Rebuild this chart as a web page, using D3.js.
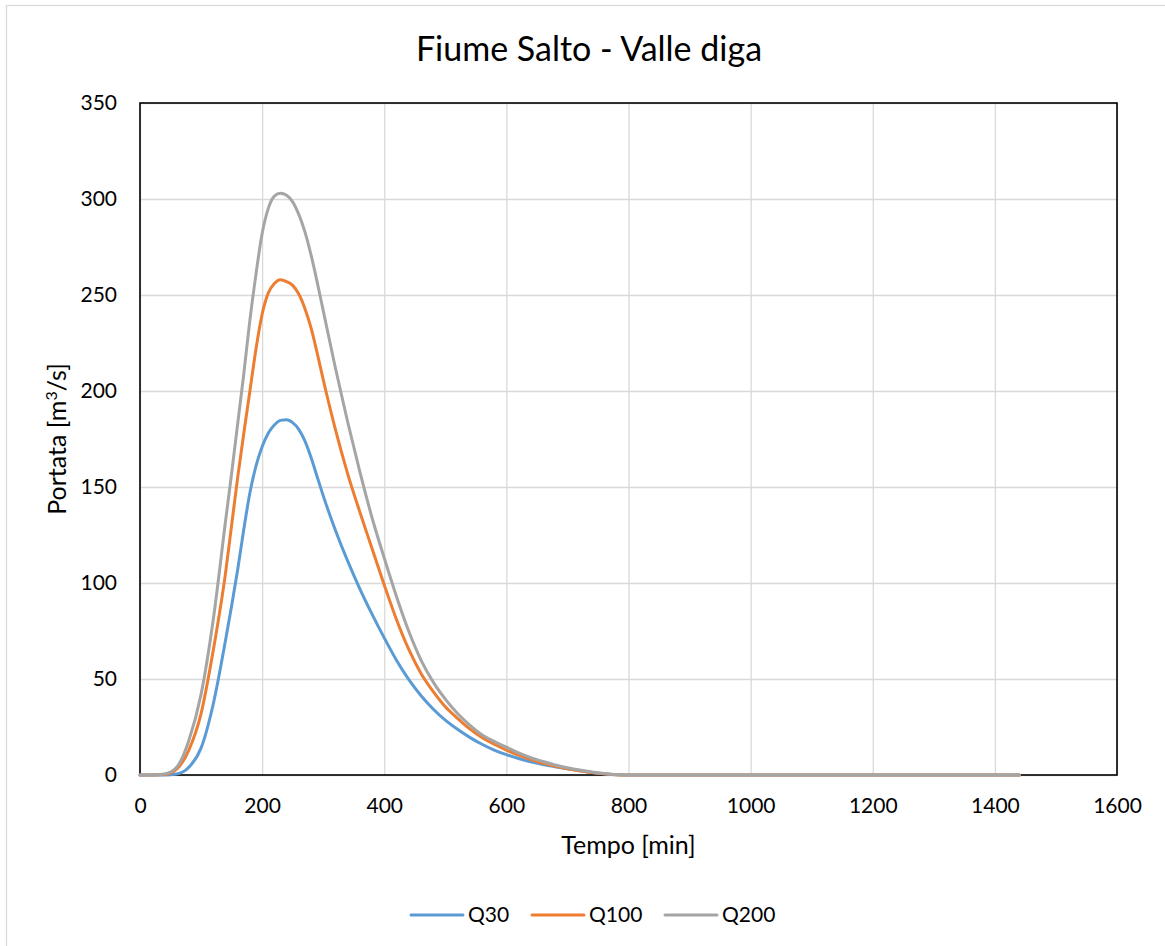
<!DOCTYPE html>
<html>
<head>
<meta charset="utf-8">
<script src="https://cdn.jsdelivr.net/npm/d3@7"></script>
<style>
  body { margin: 0; background: #fff; }
  text { font-family: Lato, "Open Sans", sans-serif; fill: #000; }
</style>
</head>
<body>
<div id="chart"></div>
<script>
// Data
var times = [0, 20, 40, 60, 80, 100, 120, 140, 150, 160, 170, 180, 190, 200, 210, 220, 230, 240, 250, 260,
    270, 280, 290, 300, 320, 340, 360, 380, 400, 420, 440, 460, 480, 500, 520, 540, 560, 580, 600,
    620, 640, 660, 680, 700, 720, 740, 760, 780, 800, 900, 1000, 1100, 1200, 1300, 1440];

var q30 = [0, 0, 0, 0.5, 4, 14, 37, 70, 88, 107, 128, 147, 161, 171, 178, 182.3, 184.7, 185, 183.5, 180,
    174, 165.5, 155.5, 145.5, 127.5, 111.5, 97, 83.8, 71.4, 59.8, 49.8, 41.4, 34.4, 28.6, 23.8, 19.6, 16, 13, 10.6,
    8.6, 6.9, 5.5, 4.3, 3.2, 2.2, 1.3, 0.6, 0.1, 0, 0, 0, 0, 0, 0, 0];

var q100 = [0, 0, 0.2, 3, 13, 32, 65, 105, 130, 155, 178, 200, 222, 240, 251, 256, 258, 257, 255, 250.5,
    243, 233, 220, 206, 180, 157, 137, 118, 99, 81, 65.5, 53, 43.5, 35.5, 29.5, 24, 19.5, 16, 13,
    10.3, 8, 6.1, 4.6, 3.3, 2.2, 1.3, 0.6, 0.1, 0, 0, 0, 0, 0, 0, 0];

var q200 = [0, 0, 0.5, 4, 18, 42, 81, 132, 157, 183, 209, 237, 261, 282, 295, 301.5, 303, 302, 298.5, 292,
    283, 271, 257, 242, 212, 184, 158, 134, 113, 93, 75, 60, 48.5, 39.5, 32, 26, 21, 17.5, 14.5,
    11.5, 9, 7, 5.2, 3.8, 2.6, 1.6, 0.8, 0.2, 0, 0, 0, 0, 0, 0, 0];

var seriesNames = ["Q30", "Q100", "Q200"];
var seriesValues = [q30, q100, q200];
var seriesColors = ["#5b9bd5", "#ed7d31", "#a5a5a5"];

var xTicks = [0, 200, 400, 600, 800, 1000, 1200, 1400, 1600];
var yTicks = [0, 50, 100, 150, 200, 250, 300, 350];

var svgWidth = 1165;
var svgHeight = 946;

var margin = { top: 103, right: 48, bottom: 171, left: 140 };
var width = svgWidth - margin.left - margin.right;
var height = svgHeight - margin.top - margin.bottom;

var svg = d3.select("#chart")
    .append("svg")
    .attr("width", svgWidth)
    .attr("height", svgHeight);

// outer chart frame
svg.append("rect")
    .attr("x", 6.5)
    .attr("y", 5.5)
    .attr("width", 1200)
    .attr("height", 1000)
    .attr("fill", "none")
    .attr("stroke", "#d9d9d9")
    .attr("stroke-width", 1.3);

svg.append("text")
    .attr("x", 589)
    .attr("y", 61)
    .attr("text-anchor", "middle")
    .style("font-size", "34px")
    .text("Fiume Salto - Valle diga");

var chartGroup = svg.append("g")
    .attr("transform", `translate(${margin.left},${margin.top})`);

var x = d3.scaleLinear().domain([0, 1600]).range([0, width]);
var y = d3.scaleLinear().domain([0, 350]).range([height, 0]);

// gridlines
chartGroup.append("g")
    .attr("transform", `translate(0,${height})`)
    .call(d3.axisBottom(x).tickValues(xTicks).tickSize(-height).tickFormat(""))
    .call(g => g.select(".domain").remove())
    .call(g => g.selectAll("line").attr("stroke", "#d9d9d9").attr("stroke-width", 1.3));

chartGroup.append("g")
    .call(d3.axisLeft(y).tickValues(yTicks).tickSize(-width).tickFormat(""))
    .call(g => g.select(".domain").remove())
    .call(g => g.selectAll("line").attr("stroke", "#d9d9d9").attr("stroke-width", 1.3));

// plot frame
chartGroup.append("rect")
    .attr("width", width)
    .attr("height", height)
    .attr("fill", "none")
    .attr("stroke", "#000")
    .attr("stroke-width", 1.6);

// tick labels
var xAxis = chartGroup.append("g")
    .attr("transform", `translate(0,${height})`)
    .call(d3.axisBottom(x).tickValues(xTicks).tickSize(0).tickPadding(23).tickFormat(d3.format("d")));
xAxis.select(".domain").remove();
xAxis.selectAll("text").style("font-size", "21px").style("font-family", "Lato, sans-serif");

var yAxis = chartGroup.append("g")
    .call(d3.axisLeft(y).tickValues(yTicks).tickSize(0).tickPadding(23).tickFormat(d3.format("d")));
yAxis.select(".domain").remove();
yAxis.selectAll("text").style("font-size", "21px").style("font-family", "Lato, sans-serif");

// series lines
var line = d3.line()
    .x((d, i) => x(times[i]))
    .y(d => y(d))
    .curve(d3.curveMonotoneX);

seriesValues.forEach(function (vals, k) {
    chartGroup.append("path")
        .datum(vals)
        .attr("fill", "none")
        .attr("stroke", seriesColors[k])
        .attr("stroke-width", 3)
        .attr("stroke-linejoin", "round")
        .attr("stroke-linecap", "round")
        .attr("d", line);
});

// axis titles
svg.append("text")
    .attr("x", margin.left + width / 2)
    .attr("y", 854)
    .attr("text-anchor", "middle")
    .style("font-size", "25px")
    .text("Tempo [min]");

var yTitle = svg.append("text")
    .attr("transform", `translate(66,${margin.top + height / 2}) rotate(-90)`)
    .attr("text-anchor", "middle")
    .style("font-size", "25px");
yTitle.append("tspan").text("Portata [m");
yTitle.append("tspan").attr("dy", -9).style("font-size", "16px").text("3");
yTitle.append("tspan").attr("dy", 9).text("/s]");

// legend
var legendX = [411, 532, 665];
var legend = svg.append("g");
seriesNames.forEach(function (name, k) {
    legend.append("line")
        .attr("x1", legendX[k])
        .attr("x2", legendX[k] + 52)
        .attr("y1", 915)
        .attr("y2", 915)
        .attr("stroke", seriesColors[k])
        .attr("stroke-width", 3)
        .attr("stroke-linecap", "round");
    legend.append("text")
        .attr("x", legendX[k] + 57)
        .attr("y", 922)
        .style("font-size", "21px")
        .text(name);
});
</script>
</body>
</html>
